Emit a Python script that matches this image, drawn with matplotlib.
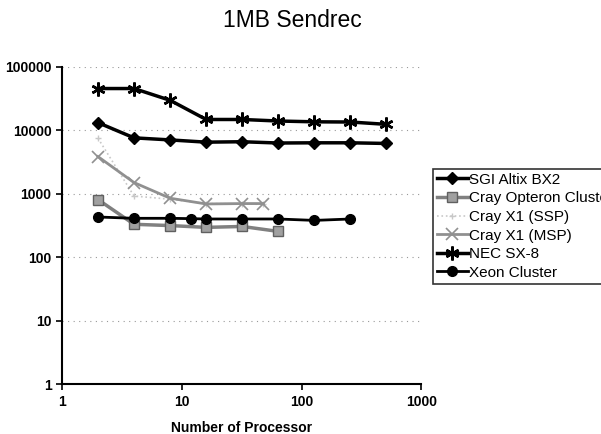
import numpy as np
import matplotlib
matplotlib.use("Agg")
import matplotlib.pyplot as plt

plt.rcParams['font.family'] = ['Liberation Sans', 'DejaVu Sans']

# number of processors for each series
sgi_x = [2, 4, 8, 16, 32, 64, 128, 256, 512]
sgi_y = [13200, 7600, 7050, 6500, 6600, 6300, 6350, 6350, 6200]

opteron_x = [2, 4, 8, 16, 32, 64]
opteron_y = [810, 330, 315, 295, 305, 255]

ssp_x = [2, 4, 8, 16, 32, 48]
ssp_y = [7500, 920, 820, 700, 690, 680]

msp_x = [2, 4, 8, 16, 32, 48]
msp_y = [3850, 1500, 850, 690, 700, 700]

nec_x = [2, 4, 8, 16, 32, 64, 128, 256, 512]
nec_y = [45500, 45500, 29700, 14800, 14800, 14000, 13600, 13500, 12400]

xeon_x = [2, 4, 8, 12, 16, 32, 64, 128, 256]
xeon_y = [430, 410, 410, 405, 400, 400, 400, 380, 400]

fig = plt.figure(figsize=(6.01, 4.34), dpi=100)
ax = fig.add_axes([0.103, 0.115, 0.598, 0.731])

ax.plot(sgi_x, sgi_y, color='black', lw=2.5, marker='D', ms=6, label='SGI Altix BX2')
ax.plot(opteron_x, opteron_y, color='#808080', lw=2.5, marker='s', ms=7,
        mfc='#a0a0a0', mec='#606060', label='Cray Opteron Cluster')
ax.plot(ssp_x, ssp_y, color='#c8c8c8', lw=1.2, ls=':', marker='+', ms=4,
        label='Cray X1 (SSP)')
ax.plot(msp_x, msp_y, color='#909090', lw=2, marker='x', ms=8, mew=1.2,
        label='Cray X1 (MSP)')
ax.plot(nec_x, nec_y, color='black', lw=2.5, marker=(6, 2, 0), ms=10, mew=1.8,
        label='NEC SX-8')
ax.plot(xeon_x, xeon_y, color='black', lw=2, marker='o', ms=7, label='Xeon Cluster')

ax.set_xscale('log')
ax.set_yscale('log')
ax.set_xlim(1, 1000)
ax.set_ylim(1, 100000)
ax.set_xticks([1, 10, 100, 1000])
ax.set_xticklabels(['1', '10', '100', '1000'])
ax.set_yticks([1, 10, 100, 1000, 10000, 100000])
ax.set_yticklabels(['1', '10', '100', '1000', '10000', '100000'])
ax.minorticks_off()
ax.tick_params(labelsize=10, length=4, width=1.2, direction='out')
for lab in ax.get_xticklabels() + ax.get_yticklabels():
    lab.set_fontweight('bold')

ax.grid(axis='y', color='#999999', ls=(0, (1, 4)), lw=0.8)
ax.spines['top'].set_visible(False)
ax.spines['right'].set_visible(False)
ax.spines['left'].set_linewidth(1.5)
ax.spines['bottom'].set_linewidth(1.5)

ax.set_xlabel('Number of Processor', fontsize=10, fontweight='bold', labelpad=9)
fig.text(0.487, 0.953, '1MB Sendrec', fontsize=16.5, ha='center', va='center')

leg = ax.legend(loc='upper left', bbox_to_anchor=(1.033, 0.678), frameon=True,
                fancybox=False, edgecolor='black', fontsize=11, handlelength=2.0,
                handletextpad=0.1, borderpad=0.25, labelspacing=0.3, borderaxespad=0)
leg.get_frame().set_linewidth(1.2)

fig.savefig('out.png', dpi=100)
